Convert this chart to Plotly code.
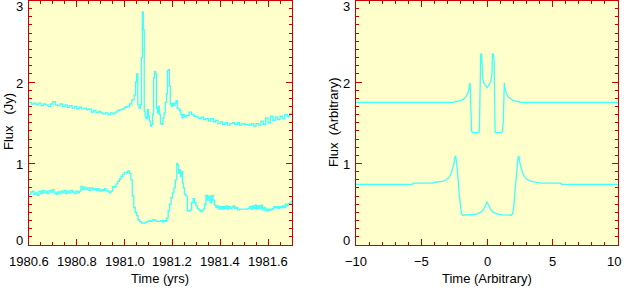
import plotly.graph_objects as go

# ---------------- data ----------------
# Left panel: observed light curves (Time in yrs, Flux in Jy)
t_upper = [
    1980.600, 1980.610, 1980.620, 1980.630, 1980.640, 1980.650, 1980.660, 1980.670, 1980.680, 1980.690,
    1980.700, 1980.710, 1980.720, 1980.730, 1980.740, 1980.750, 1980.760, 1980.770, 1980.780, 1980.790,
    1980.800, 1980.810, 1980.820, 1980.830, 1980.840, 1980.850, 1980.860, 1980.870, 1980.880, 1980.890,
    1980.900, 1980.910, 1980.920, 1980.930, 1980.940, 1980.950, 1980.960, 1980.970, 1980.980, 1980.990,
    1981.000, 1981.010, 1981.020, 1981.030, 1981.040, 1981.046, 1981.050, 1981.055, 1981.060, 1981.066,
    1981.070, 1981.074, 1981.078, 1981.082, 1981.086, 1981.090, 1981.095, 1981.100, 1981.104, 1981.108,
    1981.112, 1981.117, 1981.121, 1981.125, 1981.129, 1981.133, 1981.137, 1981.141, 1981.145, 1981.150,
    1981.155, 1981.160, 1981.165, 1981.170, 1981.175, 1981.179, 1981.183, 1981.187, 1981.191, 1981.196,
    1981.200, 1981.205, 1981.210, 1981.215, 1981.220, 1981.225, 1981.230, 1981.235, 1981.240, 1981.245,
    1981.250, 1981.260, 1981.270, 1981.280, 1981.290, 1981.300, 1981.310, 1981.320, 1981.330, 1981.340,
    1981.350, 1981.360, 1981.370, 1981.380, 1981.390, 1981.400, 1981.410, 1981.420, 1981.430, 1981.440,
    1981.450, 1981.460, 1981.470, 1981.480, 1981.490, 1981.500, 1981.510, 1981.520, 1981.530, 1981.540,
    1981.550, 1981.560, 1981.570, 1981.580, 1981.590, 1981.600, 1981.610, 1981.620, 1981.630, 1981.640,
    1981.650, 1981.660, 1981.670, 1981.680, 1981.690, 1981.700,
]
f_upper = [
    1.75, 1.73, 1.74, 1.72, 1.74, 1.71, 1.73, 1.72, 1.70, 1.73,
    1.76, 1.72, 1.71, 1.73, 1.70, 1.72, 1.69, 1.71, 1.68, 1.70,
    1.67, 1.69, 1.67, 1.68, 1.66, 1.67, 1.63, 1.65, 1.62, 1.64,
    1.62, 1.61, 1.62, 1.60, 1.62, 1.61, 1.63, 1.65, 1.66, 1.67,
    1.69, 1.70, 1.73, 1.78, 1.84, 2.00, 2.10, 1.72, 1.68, 1.72,
    2.30, 2.86, 2.64, 1.64, 1.57, 1.55, 1.66, 1.58, 1.52, 1.46,
    1.48, 1.60, 2.05, 2.13, 2.10, 1.68, 1.62, 1.70, 1.60, 1.49,
    1.48, 1.56, 1.62, 1.75, 1.85, 2.14, 2.15, 1.95, 1.73, 1.70,
    1.74, 1.71, 1.74, 1.77, 1.68, 1.67, 1.65, 1.60, 1.56, 1.60,
    1.58, 1.59, 1.63, 1.60, 1.58, 1.57, 1.55, 1.57, 1.54, 1.55,
    1.52, 1.55, 1.51, 1.53, 1.49, 1.51, 1.48, 1.50, 1.47, 1.49,
    1.50, 1.48, 1.50, 1.47, 1.49, 1.48, 1.48, 1.47, 1.49, 1.46,
    1.49, 1.47, 1.52, 1.48, 1.56, 1.50, 1.58, 1.53, 1.57, 1.54,
    1.58, 1.55, 1.60, 1.58, 1.61, 1.63,
]

t_lower = [
    1980.600, 1980.607, 1980.614, 1980.621, 1980.628, 1980.635, 1980.642, 1980.649, 1980.656, 1980.663,
    1980.670, 1980.677, 1980.684, 1980.691, 1980.698, 1980.705, 1980.712, 1980.719, 1980.726, 1980.733,
    1980.740, 1980.747, 1980.754, 1980.761, 1980.768, 1980.775, 1980.782, 1980.789, 1980.796, 1980.803,
    1980.810, 1980.817, 1980.824, 1980.831, 1980.838, 1980.845, 1980.852, 1980.859, 1980.866, 1980.873,
    1980.880, 1980.887, 1980.894, 1980.901, 1980.908, 1980.915, 1980.922, 1980.929, 1980.936, 1980.943,
    1980.950, 1980.957, 1980.964, 1980.971, 1980.978, 1980.985, 1980.992, 1980.999, 1981.006, 1981.013,
    1981.020, 1981.026, 1981.032, 1981.038, 1981.044, 1981.050, 1981.056, 1981.062, 1981.070, 1981.078,
    1981.086, 1981.094, 1981.102, 1981.110, 1981.118, 1981.126, 1981.134, 1981.142, 1981.150, 1981.158,
    1981.164, 1981.170, 1981.176, 1981.182, 1981.188, 1981.194, 1981.200, 1981.206, 1981.212, 1981.218,
    1981.222, 1981.226, 1981.230, 1981.234, 1981.238, 1981.242, 1981.246, 1981.250, 1981.256, 1981.262,
    1981.268, 1981.274, 1981.280, 1981.286, 1981.292, 1981.298, 1981.304, 1981.310, 1981.316, 1981.322,
    1981.328, 1981.334, 1981.340, 1981.346, 1981.352, 1981.358, 1981.364, 1981.370, 1981.376, 1981.382,
    1981.388, 1981.394, 1981.400, 1981.406, 1981.412, 1981.418, 1981.424, 1981.430, 1981.436, 1981.442,
    1981.448, 1981.454, 1981.460, 1981.466, 1981.472, 1981.480, 1981.490, 1981.500, 1981.510, 1981.516,
    1981.522, 1981.528, 1981.534, 1981.540, 1981.546, 1981.552, 1981.558, 1981.564, 1981.570, 1981.576,
    1981.582, 1981.588, 1981.594, 1981.600, 1981.606, 1981.612, 1981.618, 1981.624, 1981.630, 1981.636,
    1981.642, 1981.648, 1981.654, 1981.660, 1981.666, 1981.672, 1981.678, 1981.684, 1981.690, 1981.696,
    1981.700,
]
f_lower = [
    0.62, 0.65, 0.66, 0.62, 0.64, 0.61, 0.66, 0.63, 0.67, 0.64,
    0.66, 0.63, 0.67, 0.65, 0.68, 0.64, 0.62, 0.65, 0.63, 0.66,
    0.64, 0.67, 0.63, 0.66, 0.64, 0.67, 0.65, 0.63, 0.66, 0.64,
    0.66, 0.72, 0.68, 0.71, 0.68, 0.70, 0.67, 0.70, 0.68, 0.69,
    0.67, 0.69, 0.66, 0.68, 0.67, 0.69, 0.67, 0.66, 0.64, 0.66,
    0.72, 0.71, 0.75, 0.78, 0.81, 0.84, 0.87, 0.89, 0.89, 0.91,
    0.88, 0.80, 0.60, 0.46, 0.40, 0.36, 0.31, 0.29, 0.27, 0.27,
    0.28, 0.29, 0.30, 0.29, 0.31, 0.30, 0.29, 0.29, 0.30, 0.28,
    0.30, 0.29, 0.33, 0.42, 0.50, 0.58, 0.64, 0.70, 0.80, 1.00,
    0.98, 0.88, 0.92, 0.84, 0.90, 0.76, 0.70, 0.62, 0.60, 0.42,
    0.42, 0.43, 0.52, 0.57, 0.52, 0.48, 0.45, 0.43, 0.41, 0.42,
    0.44, 0.50, 0.61, 0.55, 0.60, 0.52, 0.61, 0.55, 0.49, 0.46,
    0.48, 0.44, 0.47, 0.44, 0.47, 0.45, 0.48, 0.44, 0.47, 0.45,
    0.46, 0.48, 0.45, 0.46, 0.43, 0.44, 0.44, 0.44, 0.44, 0.45,
    0.47, 0.44, 0.48, 0.45, 0.49, 0.44, 0.48, 0.45, 0.49, 0.43,
    0.46, 0.42, 0.44, 0.42, 0.44, 0.43, 0.45, 0.47, 0.46, 0.47,
    0.45, 0.47, 0.46, 0.48, 0.46, 0.50, 0.48, 0.51, 0.50, 0.53,
    0.55,
]

# Right panel: model light curves (arbitrary units)
s_upper = [
    -10.0, -2.50, -2.45, -2.00, -1.80, -1.60, -1.50, -1.42, -1.36, -1.32,
    -1.28, -1.24, -1.18, -1.12, -0.62, -0.58, -0.54, -0.48, -0.42, -0.38,
    -0.32, -0.25, -0.15, -0.05, 0.00, 0.05, 0.15, 0.25, 0.32, 0.38,
    0.42, 0.48, 0.54, 0.58, 0.62, 1.12, 1.18, 1.24, 1.28, 1.32,
    1.36, 1.42, 1.50, 1.60, 1.80, 2.00, 2.45, 2.50, 10.0,
]
g_upper = [
    1.75, 1.75, 1.76, 1.77, 1.79, 1.82, 1.85, 1.88, 1.93, 1.99,
    1.96, 1.50, 1.40, 1.38, 1.38, 1.42, 2.28, 2.34, 2.35, 2.10,
    2.04, 1.99, 1.96, 1.94, 1.93, 1.94, 1.96, 1.99, 2.04, 2.10,
    2.35, 2.34, 2.28, 1.42, 1.38, 1.38, 1.40, 1.50, 1.96, 1.99,
    1.93, 1.88, 1.85, 1.82, 1.79, 1.77, 1.76, 1.75, 1.75,
]

s_lower = [
    -10.0, -5.70, -5.60, -4.10, -4.00, -3.40, -3.10, -2.90, -2.75, -2.62,
    -2.52, -2.45, -2.40, -2.35, -2.28, -2.20, -2.12, -2.04, -1.95, -1.85,
    -1.20, -0.80, -0.50, -0.30, -0.15, -0.05, 0.00, 0.05, 0.15, 0.30,
    0.50, 0.80, 1.20, 1.85, 1.95, 2.04, 2.12, 2.20, 2.28, 2.35,
    2.40, 2.45, 2.52, 2.62, 2.75, 2.90, 3.10, 3.40, 4.00, 4.10,
    5.60, 5.70, 10.0,
]
g_lower = [
    0.745, 0.745, 0.76, 0.76, 0.77, 0.78, 0.80, 0.83, 0.87, 0.93,
    1.00, 1.08, 1.09, 1.05, 0.95, 0.80, 0.62, 0.47, 0.38, 0.365,
    0.37, 0.38, 0.40, 0.43, 0.47, 0.51, 0.53, 0.51, 0.47, 0.43,
    0.40, 0.38, 0.37, 0.365, 0.38, 0.47, 0.62, 0.80, 0.95, 1.05,
    1.09, 1.08, 1.00, 0.93, 0.87, 0.83, 0.80, 0.78, 0.77, 0.76,
    0.76, 0.745, 0.745,
]

y_tick_vals = [0, 1, 2, 3]
y_tick_text = ["0", "1", "2", "3"]
x1_tick_vals = [1980.6, 1980.8, 1981.0, 1981.2, 1981.4, 1981.6]
x1_tick_text = ["1980.6", "1980.8", "1981.0", "1981.2", "1981.4", "1981.6"]
x2_tick_vals = [-10, -5, 0, 5, 10]
x2_tick_text = ["\u221210", "\u22125", "0", "5", "10"]

# ---------------- style ----------------
W, H = 625, 288
RED = "#CC0000"
CYAN = "#40FFFF"
BG = "#FFFFCC"
FONT = "Liberation Sans, Arial, sans-serif"
FS = 13

L1, R1 = 29, 292
L2, R2 = 356, 618
TOP, BOT = 0.5, 245

fig = go.Figure()
line = dict(color=CYAN, width=1.3)
fig.add_trace(go.Scatter(x=t_upper, y=f_upper, mode="lines", line=dict(line, shape="hv"), xaxis="x", yaxis="y"))
fig.add_trace(go.Scatter(x=t_lower, y=f_lower, mode="lines", line=dict(line, shape="hv"), xaxis="x", yaxis="y"))
fig.add_trace(go.Scatter(x=s_upper, y=g_upper, mode="lines", line=line, xaxis="x2", yaxis="y2"))
fig.add_trace(go.Scatter(x=s_lower, y=g_lower, mode="lines", line=line, xaxis="x2", yaxis="y2"))

common = dict(
    showline=True, linecolor=RED, linewidth=1, mirror="ticks",
    ticks="inside", tickcolor=RED, tickwidth=1, ticklen=6,
    showgrid=False, zeroline=False, showticklabels=False, automargin=False,
)

ydom = [1 - BOT / H, 1 - TOP / H]
fig.update_layout(
    width=W, height=H,
    margin=dict(l=0, r=0, t=0, b=0, autoexpand=False),
    paper_bgcolor="white", plot_bgcolor=BG,
    showlegend=False,
    font=dict(family=FONT, size=FS, color="black"),
    xaxis=dict(common, domain=[L1 / W, R1 / W], range=[1980.6, 1981.7], anchor="y",
               tickvals=x1_tick_vals,
               minor=dict(ticks="inside", ticklen=3, tickcolor=RED, dtick=0.05, tick0=1980.6, showgrid=False)),
    yaxis=dict(common, domain=ydom, range=[0, 3], anchor="x", tickvals=y_tick_vals,
               minor=dict(ticks="inside", ticklen=3, tickcolor=RED, dtick=0.1, showgrid=False)),
    xaxis2=dict(common, domain=[L2 / W, R2 / W], range=[-10, 10], anchor="y2",
                tickvals=x2_tick_vals,
                minor=dict(ticks="inside", ticklen=3, tickcolor=RED, dtick=1, showgrid=False)),
    yaxis2=dict(common, domain=ydom, range=[0, 3], anchor="x2", tickvals=y_tick_vals,
                minor=dict(ticks="inside", ticklen=3, tickcolor=RED, dtick=0.1, showgrid=False)),
)

tfont = dict(family=FONT, size=FS, color="black")

# y tick labels (annotations so the end labels sit like the original)
shifts = {0: 5, 1: -1, 2: -1, 3: -6}
for xa_left, yref in ((L1, "y"), (L2, "y2")):
    for v, txt in zip(y_tick_vals, y_tick_text):
        fig.add_annotation(x=(xa_left - 4) / W, xref="paper", y=v, yref=yref, text=txt,
                           showarrow=False, xanchor="right", yanchor="middle", yshift=shifts[v],
                           font=tfont)

# x tick labels
LAB_Y = 1 - 261.5 / H
for vals, texts, xref in ((x1_tick_vals, x1_tick_text, "x"), (x2_tick_vals, x2_tick_text, "x2")):
    for v, txt in zip(vals, texts):
        xa = "xanchor"
        fig.add_annotation(x=v, xref=xref, y=LAB_Y, yref="paper", text=txt,
                           showarrow=False, xanchor="center", yanchor="middle",
                           xshift=(-4 if (xref == "x2" and v == 10) else 0), font=tfont)

# axis titles
titles = [
    ("Time (yrs)", 160, 278, 0),
    ("Time (Arbitrary)", 487, 278, 0),
    ("Flux\u00a0\u00a0\u00a0(Jy)", 8, 122, -90),
    ("Flux\u00a0\u00a0(Arbitrary)", 333, 122, -90),
]
for txt, px, py, ang in titles:
    fig.add_annotation(x=px / W, y=1 - py / H, xref="paper", yref="paper", text=txt,
                       showarrow=False, xanchor="center", yanchor="middle", textangle=ang,
                       font=tfont)

fig.write_html("out.html")
